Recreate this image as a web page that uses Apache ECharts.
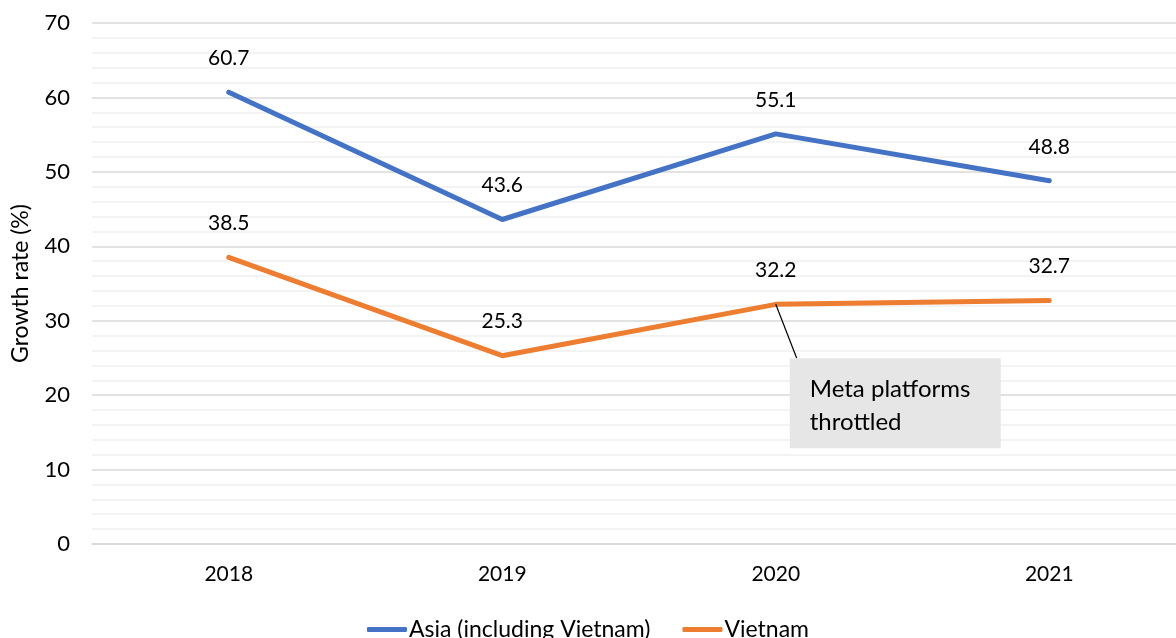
<!DOCTYPE html>
<html>
<head>
<meta charset="utf-8">
<script src="https://cdn.jsdelivr.net/npm/echarts@6/dist/echarts.min.js"></script>
<style>
  html, body { margin: 0; padding: 0; background: #fff; }
  #chart { width: 1176px; height: 638px; }
</style>
</head>
<body>
<div id="chart"></div>
<script>
const years = ['2018', '2019', '2020', '2021']
const asia = [60.7, 43.6, 55.1, 48.8]
const vietnam = [38.5, 25.3, 32.2, 32.7]
const noteText = 'Meta platforms\nthrottled'
const noteIndex = 2

const font = 'Lato, "Open Sans", sans-serif'

const chart = echarts.init(document.getElementById('chart'))

function lineSeries(name, data, color) {
  return {
    name: name,
    type: 'line',
    data: data,
    symbol: 'circle',
    symbolSize: 1,
    showSymbol: true,
    lineStyle: {width: 5, color: color, cap: 'round'},
    itemStyle: {color: color},
    label: {
      show: true,
      position: 'top',
      distance: 23,
      color: '#000',
      fontSize: 21,
      fontFamily: font
    }
  }
}

chart.setOption({
  animation: false,
  grid: {left: 92, width: 1094, top: 23, bottom: 94, outerBoundsMode: 'none', containLabel: false},
  legend: {
    bottom: -8,
    left: 'center',
    icon: 'roundRect',
    itemWidth: 40,
    itemHeight: 5,
    itemGap: 32,
    textStyle: {fontSize: 23, color: '#000', fontFamily: font, padding: [0, 0, 0, -3]},
    data: ['Asia (including Vietnam)', 'Vietnam']
  },
  xAxis: {
    type: 'category',
    data: years,
    boundaryGap: true,
    axisLine: {lineStyle: {color: '#d9d9d9', width: 1.5}},
    axisTick: {show: false},
    axisLabel: {color: '#000', fontSize: 21, margin: 20, fontFamily: font}
  },
  yAxis: {
    type: 'value',
    min: 0,
    max: 70,
    interval: 10,
    name: 'Growth rate (%)',
    nameLocation: 'middle',
    nameGap: 60,
    nameTextStyle: {color: '#000', fontSize: 23, fontFamily: font},
    axisLine: {show: false},
    axisTick: {show: false},
    axisLabel: {color: '#000', fontSize: 22, margin: 22, fontFamily: font},
    splitLine: {lineStyle: {color: '#d9d9d9', width: 1.5}},
    minorTick: {show: false, splitNumber: 5},
    minorSplitLine: {show: true, lineStyle: {color: '#efefef', width: 1.5}}
  },
  series: [
    lineSeries('Asia (including Vietnam)', asia, '#4472c4'),
    lineSeries('Vietnam', vietnam, '#ed7d31')
  ]
})

// callout box anchored to the Vietnam 2020 point
const p = chart.convertToPixel({seriesIndex: 1}, [noteIndex, vietnam[noteIndex]])
const boxX = p[0] + 14
const boxY = p[1] + 54
chart.setOption({
  graphic: [
    {
      type: 'line',
      shape: {x1: p[0], y1: p[1], x2: p[0] + 21, y2: boxY},
      style: {stroke: '#000', lineWidth: 1.2},
      z: 10
    },
    {
      type: 'rect',
      shape: {x: boxX, y: boxY, width: 211, height: 90},
      style: {fill: '#e7e6e6'},
      z: 10
    },
    {
      type: 'text',
      x: boxX + 20,
      y: boxY + 14,
      style: {text: noteText, fontSize: 24, lineHeight: 33, fill: '#000', fontFamily: font},
      z: 11
    }
  ]
})
</script>
</body>
</html>
